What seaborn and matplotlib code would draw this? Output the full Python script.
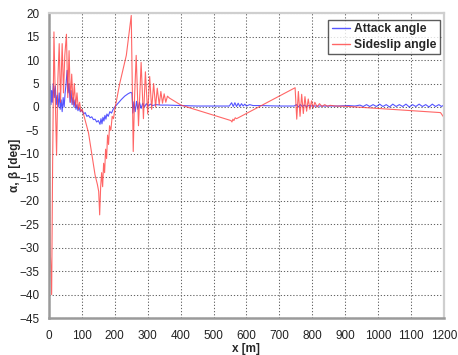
import matplotlib
matplotlib.use("Agg")
import matplotlib.pyplot as plt
import seaborn as sns
import pandas as pd

# Attack angle alpha [deg] sampled along the path x [m]
attack_points = [
    (0, 5.3), (2, 1.0), (4, 4.5), (6, 0.5), (8, 3.5), (10, 1.0), (13, 5.0), (16, 2.0),
    (19, 4.5), (22, 0.5), (25, 2.5), (28, 0.0), (31, 3.0), (34, -0.5), (37, 1.5),
    (40, -1.0), (43, 2.0), (46, 0.0), (49, 3.0), (52, 5.0), (55, 7.8), (58, 3.0),
    (61, 5.0), (64, 1.0), (67, 3.5), (70, 0.5), (73, 2.0), (76, 0.0), (79, 1.5),
    (82, -0.5), (85, 0.5), (88, -0.8), (91, 0.0), (95, -1.0), (100, -0.6), (105, -1.5),
    (110, -1.2), (115, -2.0), (120, -1.8), (125, -2.3), (130, -2.1), (135, -2.7),
    (140, -2.6), (145, -3.2), (150, -2.9), (155, -3.7), (158, -2.5), (161, -3.6),
    (164, -2.2), (167, -3.0), (170, -1.8), (173, -2.6), (176, -1.5), (180, -2.0),
    (185, -1.0), (190, -1.3), (195, -0.5), (200, 0.0), (210, 0.8), (220, 1.6),
    (230, 2.3), (240, 2.8), (248, 3.1), (252, 3.0), (255, -1.3), (258, 1.1),
    (262, -1.0), (266, 1.2), (270, -0.5), (275, 1.0), (280, -0.3), (285, 0.8),
    (290, 0.0), (296, 0.7), (302, 0.2), (308, 0.6), (315, 0.3), (325, 0.5), (340, 0.4),
    (360, 0.4), (400, 0.3), (450, 0.2), (500, 0.2), (548, 0.2), (555, 0.9), (560, 0.1),
    (565, 0.9), (570, 0.1), (575, 0.8), (580, 0.1), (585, 0.7), (590, 0.2), (595, 0.6),
    (600, 0.2), (610, 0.5), (620, 0.3), (640, 0.3), (700, 0.2), (745, 0.2), (752, 0.5),
    (758, 0.0), (764, 0.5), (770, 0.1), (776, 0.4), (782, 0.1), (790, 0.3), (800, 0.2),
    (820, 0.2), (850, 0.2), (880, 0.2), (910, 0.3), (930, 0.2), (945, 0.4), (955, 0.1),
    (965, 0.5), (975, 0.1), (985, 0.5), (995, 0.1), (1005, 0.6), (1015, 0.1),
    (1025, 0.5), (1035, 0.0), (1045, 0.6), (1055, 0.1), (1065, 0.5), (1075, 0.1),
    (1085, 0.6), (1095, 0.0), (1105, 0.5), (1115, 0.1), (1125, 0.6), (1135, 0.1),
    (1145, 0.5), (1155, 0.0), (1165, 0.6), (1175, 0.1), (1185, 0.5), (1193, 0.1),
    (1200, 0.4),
]

# Sideslip angle beta [deg] sampled along the path x [m]
sideslip_points = [
    (0, 1.0), (2, -8.0), (4, -31.0), (8, -40.0), (11, -12.0), (15, 16.0), (19, 2.0),
    (23, -10.3), (27, 6.0), (31, 13.5), (35, 1.0), (40, 13.5), (44, 3.0), (48, 11.0),
    (53, 15.5), (57, 2.0), (61, 12.0), (65, 1.0), (69, 7.0), (73, 0.5), (77, 5.0),
    (81, 0.0), (85, 3.0), (89, -0.5), (93, 1.0), (97, -1.0), (101, -0.5), (120, -5.5),
    (140, -14.5), (147, -16.5), (151, -18.0), (154, -23.0), (157, -17.0), (160, -14.0),
    (163, -17.0), (166, -12.0), (169, -14.0), (172, -9.0), (175, -11.0), (178, -6.0),
    (181, -8.0), (184, -4.0), (188, -5.0), (192, -2.0), (196, -2.5), (200, -0.5),
    (215, 5.0), (235, 11.0), (250, 19.5), (253, 5.0), (256, -9.5), (260, 2.0),
    (265, 11.0), (272, -4.0), (280, 9.5), (287, -2.5), (293, 7.5), (300, -1.5),
    (306, 6.5), (312, -0.5), (318, 5.0), (324, 0.0), (329, 4.0), (335, 0.5), (340, 3.3),
    (345, 0.8), (350, 2.8), (355, 1.0), (360, 2.3), (366, 1.9), (401, 0.4),
    (553, -2.9), (556, -3.2), (559, -2.6), (562, -2.9), (566, -2.3), (570, -2.5),
    (748, 4.1), (753, -2.6), (758, 3.3), (763, -2.0), (768, 2.7), (773, -1.4),
    (778, 2.2), (783, -0.9), (788, 1.7), (793, -0.5), (798, 1.3), (803, -0.2),
    (808, 1.0), (815, 0.0), (822, 0.7), (830, 0.1), (838, 0.5), (846, 0.15),
    (855, 0.35), (870, 0.2), (900, 0.15), (1190, -1.2), (1200, -2.2),
]

attack_x = [p[0] for p in attack_points]
attack_deg = [p[1] for p in attack_points]
sideslip_x = [p[0] for p in sideslip_points]
sideslip_deg = [p[1] for p in sideslip_points]

x_ticks = list(range(0, 1201, 100))
y_ticks = list(range(-45, 21, 5))

series = pd.concat([
    pd.DataFrame({"x": attack_x, "angle": attack_deg, "series": "Attack angle"}),
    pd.DataFrame({"x": sideslip_x, "angle": sideslip_deg, "series": "Sideslip angle"}),
], ignore_index=True)

sns.set_style("white")
plt.rcParams["font.family"] = ["Liberation Sans", "DejaVu Sans"]

fig = plt.figure(figsize=(4.58, 3.55), dpi=100)
ax = fig.add_axes([0.107, 0.104, 0.862, 0.859])

sns.lineplot(data=series, x="x", y="angle", hue="series", estimator=None, sort=False,
             palette={"Attack angle": "#2a2aff", "Sideslip angle": "#ff4040"},
             linewidth=0.8, alpha=0.8, ax=ax)

ax.set_xlim(0, 1200)
ax.set_ylim(-45, 20)
ax.set_xticks(x_ticks)
ax.set_yticks(y_ticks)
ax.tick_params(axis="both", labelsize=8.5, colors="#222222", length=3,
               width=0.8, color="#777777")
ax.tick_params(axis="x", direction="inout", length=5, pad=6)
ax.tick_params(axis="y", pad=4)
ax.grid(True, linestyle=(0, (1.2, 1.8)), color="#666666", linewidth=0.75)

for side in ("left", "bottom"):
    ax.spines[side].set_color("#9a9a9a")
    ax.spines[side].set_linewidth(1.8)
for side in ("top", "right"):
    ax.spines[side].set_color("#cfcfcf")
    ax.spines[side].set_linewidth(1.6)

ax.set_xlabel("x [m]", fontsize=8.5, fontweight="bold", labelpad=0.5)
ax.set_ylabel("α, β [deg]", fontsize=8.5, fontweight="bold", labelpad=-1)

leg = ax.legend(loc="upper right", fancybox=False, frameon=True, handlelength=1.5,
                handletextpad=0.3, borderpad=0.3, labelspacing=0.3, borderaxespad=0.0,
                prop={"weight": "bold", "size": 8.7}, bbox_to_anchor=(0.99, 0.979))
leg.get_frame().set_edgecolor("#333333")
leg.get_frame().set_linewidth(1.0)
for h in leg.get_lines():
    h.set_linewidth(1.0)

fig.savefig("out.png", dpi=100)
